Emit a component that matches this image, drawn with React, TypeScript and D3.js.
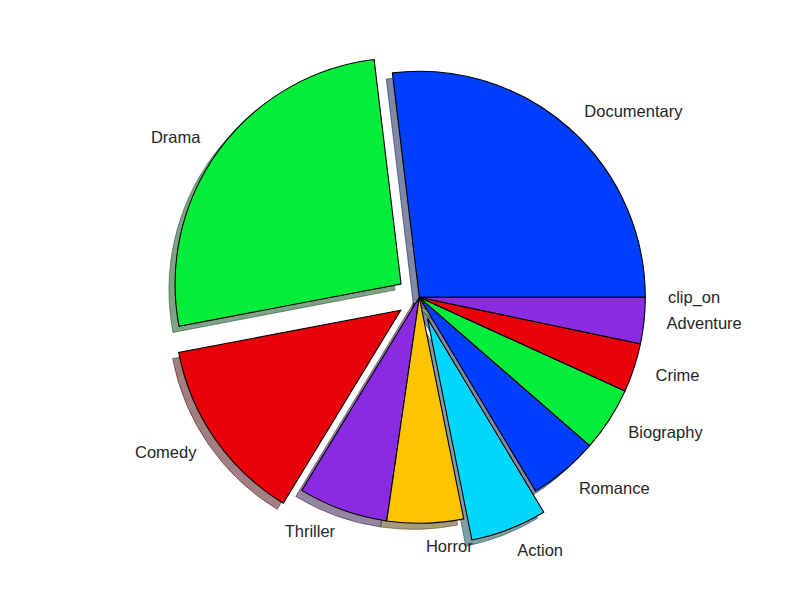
import * as d3 from 'd3'

// genre shares (counter-clockwise from 3 o'clock)
const GENRES = ['Documentary', 'Drama', 'Comedy', 'Thriller', 'Horror', 'Action', 'Romance', 'Biography', 'Crime', 'Adventure', 'clip_on']
const SHARES = [26.9, 26.1, 13.3, 6.4, 5.45, 5.45, 5.0, 4.6, 3.5, 3.3, 0]
const EXPLODE = [0, 0.1, 0.1, 0, 0, 0.1, 0, 0, 0, 0, 0]

// old seaborn "bright" palette
const PALETTE = ['#003FFF', '#03ED3A', '#E8000B', '#8A2BE2', '#FFC400', '#00D7FF']

const W = 800
const H = 600
const CX = 419.3
const CY = 297.3
const R = 226

function shade(c: string) {
  const rgb = d3.rgb(c)
  return d3.rgb(rgb.r * 0.3, rgb.g * 0.3, rgb.b * 0.3).formatHex()
}

export default function App() {
  const rows = GENRES.map((g, i) => ({ genre: g, value: SHARES[i], explode: EXPLODE[i], color: PALETTE[i % PALETTE.length] }))

  // d3 angles run clockwise from 12 o'clock, so go from +90deg backwards
  const pie = d3.pie<any>().sort(null).value(d => d.value)
    .startAngle(Math.PI / 2).endAngle(Math.PI / 2 - 2 * Math.PI)
  const arcs = pie(rows)
  const arc = d3.arc<any>().innerRadius(0).outerRadius(R)

  const shadowOff = R * 0.027

  const slices = arcs.map(a => {
    const mid = (a.startAngle + a.endAngle) / 2
    const off = a.data.explode * R
    const dx = Math.sin(mid) * off
    const dy = -Math.cos(mid) * off
    const lr = R * (1.1 + a.data.explode)
    const lx = Math.sin(mid) * lr
    const ly = -Math.cos(mid) * lr
    return { a, dx, dy, lx, ly, path: a.value > 0 ? arc(a) : null }
  })

  return (
    <svg width={W} height={H} style={{ position: 'absolute', left: 0, top: 0, background: '#fff' }}>
      <g transform={`translate(${CX},${CY})`}>
        {slices.map((s, i) => s.path && (
          <path key={'sh' + i}
            d={s.path}
            transform={`translate(${s.dx - shadowOff},${s.dy + shadowOff})`}
            fill={shade(s.a.data.color)} fillOpacity={0.5}
            stroke={shade(s.a.data.color)} strokeOpacity={0.5} strokeWidth={1} />
        ))}
        {slices.map((s, i) => s.path && (
          <path key={'w' + i}
            d={s.path}
            transform={`translate(${s.dx},${s.dy})`}
            fill={s.a.data.color}
            stroke="#000" strokeWidth={1.1} strokeLinejoin="miter" />
        ))}
        {slices.map((s, i) => (
          <text key={'l' + i}
            x={s.lx} y={s.ly}
            textAnchor={s.lx > 0 ? 'start' : 'end'}
            dominantBaseline="central"
            fontFamily="'Liberation Sans', Arial, sans-serif"
            fontSize={16.5}
            fill="#262626">
            {s.a.data.genre}
          </text>
        ))}
      </g>
    </svg>
  )
}
